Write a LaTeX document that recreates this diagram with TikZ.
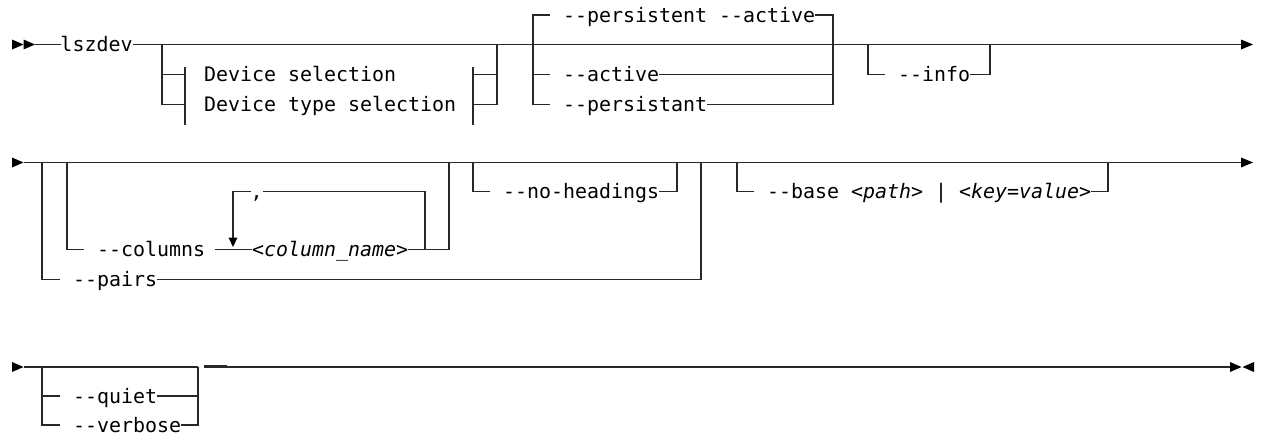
\documentclass[tikz,border=0pt]{standalone}
\usepackage{fontspec}
\newfontfamily\railfont{DejaVu Sans Mono}
\definecolor{railc}{RGB}{40,40,40}
\begin{document}
\begin{tikzpicture}[x=0.5pt,y=-0.5pt,
  lbl/.style={anchor=west,inner sep=0pt,outer sep=0pt,text height=7pt,text depth=0pt,
    font=\railfont\fontsize{9.97pt}{12pt}\selectfont,text=black},
  rail/.style={draw=railc,line width=0.65pt,line join=miter,line cap=butt},
  tipfill/.style={fill=black}]
\useasboundingbox (0,0) rectangle (1264,434);

% ---------------- Row 1 ----------------
\fill[tipfill] (12,39.5) -- (23.5,44.5) -- (12,49.5) -- cycle;
\fill[tipfill] (23.5,39.5) -- (35,44.5) -- (23.5,49.5) -- cycle;
\coordinate (r1s) at (35,44.5);
\coordinate (r1e) at (1241,44.5);
\node[lbl] (lsz) at (60.5,44.5) {lszdev};
\draw[rail] (r1s) -- (lsz.west);
\draw[rail] (lsz.east) -- (r1e);
\fill[tipfill] (1241,39.5) -- (1253,44.5) -- (1241,49.5) -- cycle;

% device selection fragment (optional)
\draw[rail] (162,44.5) -- (162,104.5) -- (185,104.5);
\draw[rail] (162,74.5) -- (185,74.5);
\draw[rail] (185,67) -- (185,125);
\node[lbl] (ds) at (204,74.5) {Device selection};
\node[lbl] (dts) at (204,104.5) {Device type selection};
\draw[rail] (473,67) -- (473,125);
\draw[rail] (473,74.5) -- (497,74.5);
\draw[rail] (473,104.5) -- (497,104.5) -- (497,44.5);

% persistent / active group
\draw[rail] (550,15) -- (533,15) -- (533,104.5) -- (550,104.5);
\draw[rail] (533,74.5) -- (550,74.5);
\node[lbl] (pa) at (563,15) {--persistent --active};
\node[lbl] (act) at (563,74.5) {--active};
\node[lbl] (pst) at (563,104.5) {--persistant};
\draw[rail] (pa.east) -- (833,15) -- (833,104.5);
\draw[rail] (act.east) -- (833,74.5);
\draw[rail] (pst.east) -- (833,104.5);

% info
\draw[rail] (868,44.5) -- (868,74.5) -- (885,74.5);
\node[lbl] (info) at (898,74.5) {--info};
\draw[rail] (info.east) -- (990,74.5) -- (990,44.5);

% ---------------- Row 2 ----------------
\fill[tipfill] (12,157.5) -- (23.5,162.5) -- (12,167.5) -- cycle;
\coordinate (r2s) at (23.5,162.5);
\coordinate (r2e) at (1241,162.5);
\draw[rail] (r2s) -- (r2e);
\fill[tipfill] (1241,157.5) -- (1253,162.5) -- (1241,167.5) -- cycle;

% pairs (outer)
\draw[rail] (42,162.5) -- (42,279.5) -- (60,279.5);
\node[lbl] (pairs) at (73,279.5) {--pairs};
\draw[rail] (pairs.east) -- (701,279.5) -- (701,162.5);

% columns (inner)
\draw[rail] (67,162.5) -- (67,249.5) -- (84,249.5);
\node[lbl] (cols) at (97,249.5) {--columns};
\node[lbl] (cname) at (252,249.5) {<{\itshape column\_name}>};
\draw[rail] (215,249.5) -- (cname.west);
\draw[rail] (cname.east) -- (449,249.5) -- (449,162.5);
\node[lbl] (comma) at (250.5,191.5) {,};
\draw[rail] (425,249.5) -- (425,191.5) -- (comma.east);
\draw[rail] (comma.west) -- (233,191.5) -- (233,238);
\fill[tipfill] (228.5,237.5) -- (237.5,237.5) -- (233,247) -- cycle;

% no-headings
\draw[rail] (473,162.5) -- (473,191.5) -- (490,191.5);
\node[lbl] (nh) at (503,191.5) {--no-headings};
\draw[rail] (nh.east) -- (677,191.5) -- (677,162.5);

% base
\draw[rail] (737,162.5) -- (737,191.5) -- (754,191.5);
\node[lbl] (base) at (767,191.5) {--base <{\itshape path}> | <{\itshape key=value}>};
\draw[rail] (base.east) -- (1108,191.5) -- (1108,162.5);

% ---------------- Row 3 ----------------
\fill[tipfill] (12,362) -- (23.5,367) -- (12,372) -- cycle;
\coordinate (r3s) at (23.5,367);
\coordinate (r3m) at (203.5,367);
\coordinate (r3e) at (1230,367);
\draw[rail] (r3s) -- (198,367);
\draw[rail] (42,367) -- (42,425) -- (60,425);
\draw[rail] (42,396) -- (60,396);
\node[lbl] (quiet) at (73,396) {--quiet};
\node[lbl] (verb) at (73,425) {--verbose};
\draw[rail] (quiet.east) -- (198,396);
\draw[rail] (verb.east) -- (198,425) -- (198,367);
\draw[rail] (r3m) -- (r3e);
\draw[draw=railc,line width=0.75pt] (203.5,366.2) -- (227,366.2);
\fill[tipfill] (1230,362) -- (1241.5,367) -- (1230,372) -- cycle;
\fill[tipfill] (1254,362) -- (1242.5,367) -- (1254,372) -- cycle;
\end{tikzpicture}
\end{document}
